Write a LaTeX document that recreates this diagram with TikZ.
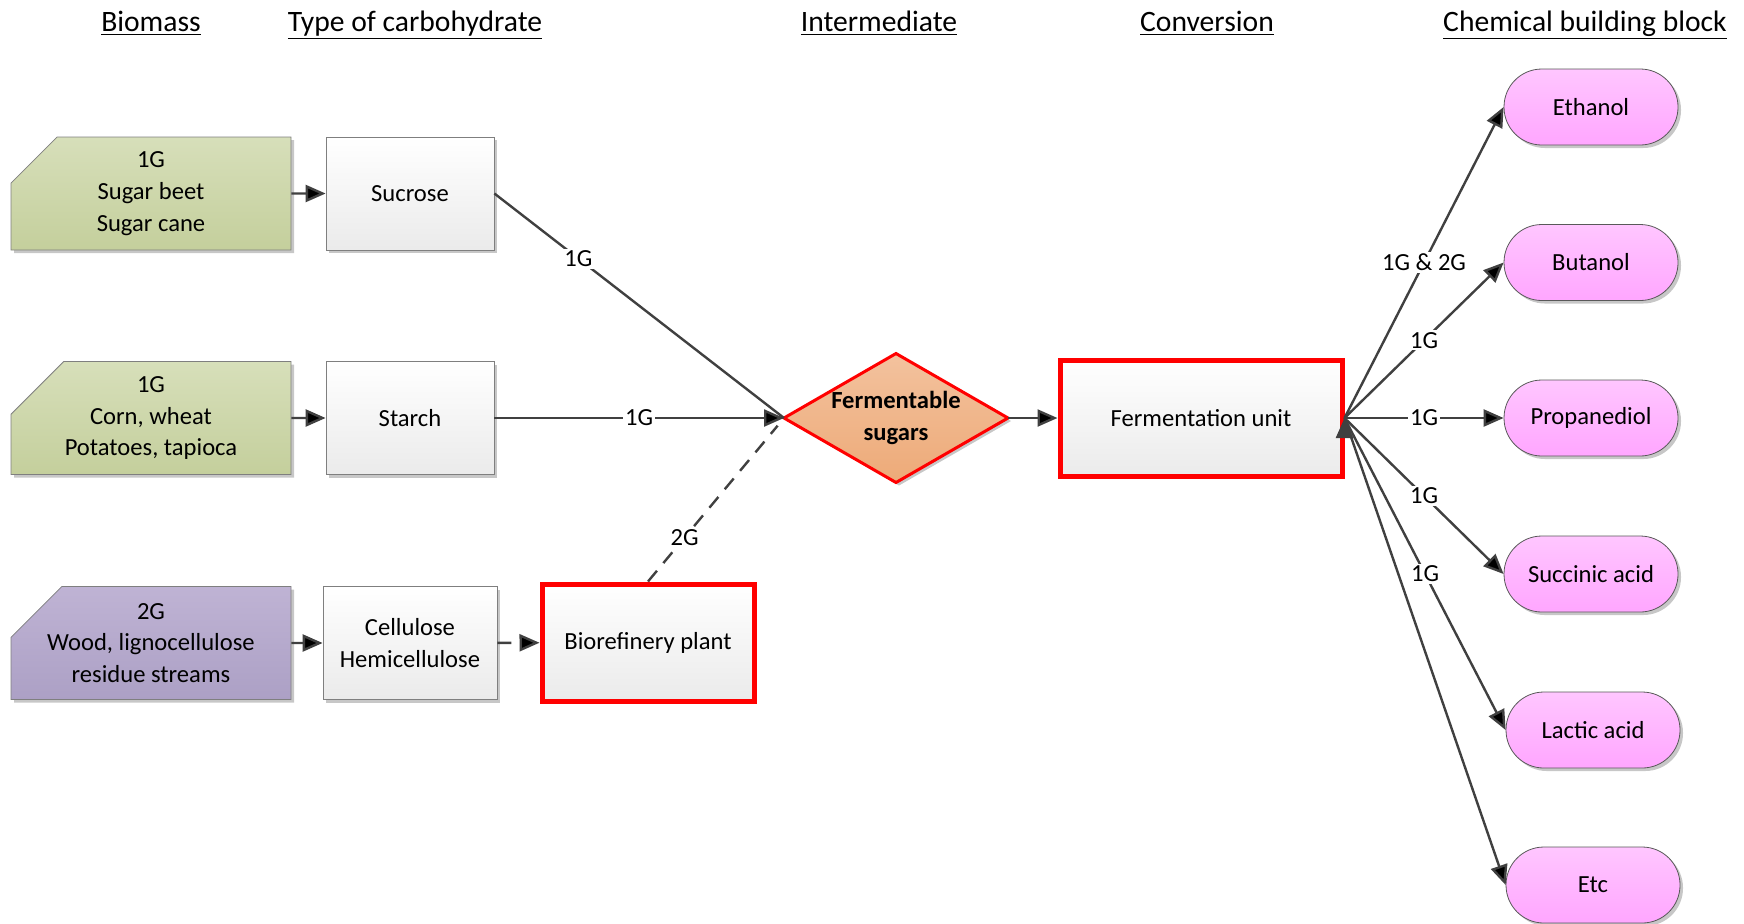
\documentclass[tikz,border=0pt]{standalone}
\usepackage{fontspec}
\setmainfont{Carlito}
\usetikzlibrary{arrows.meta,shapes.geometric,shapes.misc,shadows}
\definecolor{edgegray}{HTML}{404040}
\definecolor{framegray}{HTML}{7F7F7F}
\definecolor{redframe}{HTML}{FF0000}
\definecolor{greentop}{HTML}{D7DFBA}
\definecolor{greenbot}{HTML}{C4CF9C}
\definecolor{violettop}{HTML}{BFB3D4}
\definecolor{violetbot}{HTML}{ACA0C5}
\definecolor{orangetop}{HTML}{F3C29E}
\definecolor{orangebot}{HTML}{EDAA78}
\definecolor{pinktop}{HTML}{FFC6FF}
\definecolor{pinkbot}{HTML}{FFA6FF}
\tikzset{
  txt/.style={font=\fontsize{12.3}{15.9}\selectfont},
  head/.style={font=\fontsize{14.8}{18}\selectfont,anchor=base},
  shade/.style={drop shadow={shadow xshift=1.5pt,shadow yshift=-1.5pt,opacity=0.22,fill=black}},
  biomass/.style={txt,shade,chamfered rectangle,chamfered rectangle corners=north west,
    chamfered rectangle xsep=20.5pt,chamfered rectangle ysep=22.5pt,
    draw=framegray,minimum width=140pt,minimum height=56.5pt,align=center,
    inner xsep=-8pt,inner ysep=-17pt},
  carbo/.style={txt,shade,draw=framegray,top color=white,bottom color=black!8,
    minimum width=84pt,minimum height=56.5pt,align=center},
  redbox/.style={txt,shade,draw=redframe,line width=2.5pt,top color=white,bottom color=black!8,align=center},
  rhombus/.style={diamond,shade,draw=redframe,line width=1.5pt,top color=orangetop,bottom color=orangebot,
    minimum width=112pt,minimum height=64.5pt,inner sep=0pt,outer sep=0pt},
  product/.style={txt,shade,draw=black!65,rounded corners=18.9pt,top color=pinktop,bottom color=pinkbot,
    minimum width=87pt,minimum height=38pt},
  flow/.style={draw=edgegray,line width=1.2pt,-{Triangle[length=10pt,width=8.5pt]}},
  plain/.style={draw=edgegray,line width=1.2pt},
  lbl/.style={txt,fill=white,inner sep=1pt}
}
\begin{document}
\begin{tikzpicture}[x=0.5pt,y=0.5pt]
\useasboundingbox (0,0) rectangle (1744,-923);
% column headings
\node[head] (hbio) at (151,-31) {\underline{Biomass}};
\node[head] (htype) at (415,-31) {\underline{Type of carbohydrate}};
\node[head] (hinter) at (879,-31) {\underline{Intermediate}};
\node[head] (hconv) at (1207,-31) {\underline{Conversion}};
\node[head] (hblock) at (1585,-31) {\underline{Chemical building block}};
% biomass
\node[biomass,top color=greentop,bottom color=greenbot] (bio1) at (151,-193.5) {1G\\Sugar beet\\Sugar cane};
\node[biomass,top color=greentop,bottom color=greenbot] (bio2) at (151,-418) {1G\\Corn, wheat\\Potatoes, tapioca};
\node[biomass,top color=violettop,bottom color=violetbot] (bio3) at (151,-643) {2G\\Wood, lignocellulose\\residue streams};
% carbohydrates
\node[carbo] (sucrose) at (410,-193.5) {Sucrose};
\node[carbo] (starch) at (410,-418) {Starch};
\node[carbo,minimum width=87pt] (cellulose) at (410,-643) {Cellulose\\Hemicellulose};
\node[redbox,minimum width=106pt,minimum height=58.5pt] (plant) at (648,-642.5) {Biorefinery plant};
% intermediate and conversion
\node[rhombus] (sugars) at (896,-418) {};
\node[txt,font=\fontsize{12.3}{15.9}\selectfont\bfseries,align=center] (sugarstext) at (sugars) {Fermentable\\sugars};
\node[redbox,minimum width=141pt,minimum height=58pt] (unit) at (1201,-418) {Fermentation unit};
% building blocks
\node[product] (ethanol) at (1591,-107) {Ethanol};
\node[product] (butanol) at (1591,-262.5) {Butanol};
\node[product] (propanediol) at (1591,-418) {Propanediol};
\node[product] (succinic) at (1591,-574) {Succinic acid};
\node[product] (lactic) at (1593,-730) {Lactic acid};
\node[product] (etc) at (1593,-885) {Etc};
% connectors
\path[flow]
(bio1) edge (sucrose)
(bio2) edge (starch)
(bio3) edge (cellulose)
(cellulose) edge[dash pattern=on 7pt off 5pt] (plant)
(starch) edge node[lbl]{1G} (sugars.west)
(sugars) edge (unit);
\path[plain]
(sucrose.east) edge node[lbl,pos=0.29]{1G} (sugars.west)
(plant.north) edge[dash pattern=on 7pt off 5pt,shorten >=5pt] node[lbl,pos=0.27]{2G} (sugars.west);
\path[flow]
(unit.east) edge node[lbl]{1G \& 2G} (ethanol.west)
(unit.east) edge node[lbl]{1G} (butanol.west)
(unit.east) edge node[lbl]{1G} (propanediol.west)
(unit.east) edge node[lbl]{1G} (succinic.west)
(unit.east) edge node[lbl]{1G} (lactic.west)
(unit.east) edge (etc.west);
\end{tikzpicture}
\end{document}
